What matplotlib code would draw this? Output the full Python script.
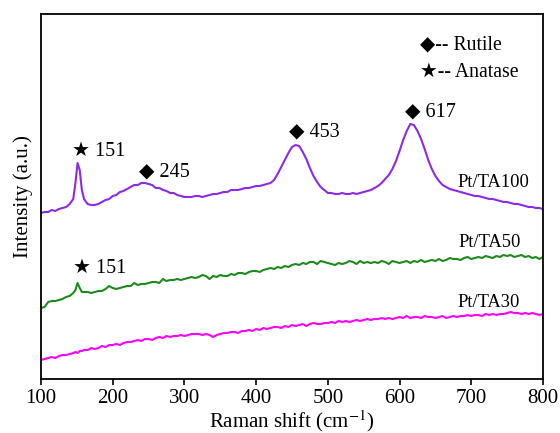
import numpy as np
import matplotlib
matplotlib.use('Agg')
import matplotlib.pyplot as plt

plt.rcParams['font.family'] = ['Liberation Serif', 'DejaVu Sans']
plt.rcParams['mathtext.fontset'] = 'stix'

# Raman shift grid (cm-1), denser around the 151 peak
shift = (list(range(100, 150, 5)) + [148, 151, 154, 157]
         + list(range(160, 805, 5)))

# intensities (a.u.)
ta100 = [166, 167, 167, 169, 168, 170, 171, 172, 175, 180,
         196, 216, 209, 189,
         180, 175, 174, 174, 175, 177, 179, 180, 183, 184,
         187, 188, 190, 192, 194, 194, 196, 196, 195, 194,
         191, 191, 189, 188, 186, 186, 184, 183, 182, 182,
         182, 183, 183, 182, 183, 184, 185, 185, 186, 187,
         187, 189, 189, 189, 190, 191, 191, 192, 193, 193,
         194, 195, 196, 199, 205, 212, 219, 226, 232, 234,
         233, 227, 220, 211, 203, 197, 192, 189, 186, 186,
         185, 185, 186, 185, 185, 186, 185, 186, 187, 188,
         189, 191, 193, 196, 200, 204, 210, 218, 228, 239,
         248, 255, 254, 248, 240, 230, 219, 210, 203, 198,
         194, 192, 190, 189, 188, 187, 186, 185, 184, 183,
         183, 182, 181, 180, 180, 179, 178, 177, 177, 176,
         175, 175, 174, 173, 172, 172, 171, 171, 170]

ta50 = [71, 72, 77, 78, 78, 79, 80, 82, 83, 86,
        89, 96, 91, 87,
        87, 87, 86, 87, 88, 88, 90, 93, 91, 90,
        91, 92, 93, 93, 96, 94, 95, 95, 96, 97,
        97, 96, 100, 98, 99, 99, 100, 99, 100, 101,
        102, 101, 102, 104, 103, 100, 103, 102, 104, 103,
        103, 105, 104, 106, 106, 105, 107, 108, 108, 107,
        109, 110, 111, 110, 112, 111, 113, 112, 114, 115,
        114, 116, 115, 117, 117, 115, 118, 117, 116, 115,
        114, 116, 115, 116, 118, 117, 115, 118, 116, 117,
        116, 117, 116, 118, 117, 115, 118, 117, 116, 117,
        118, 116, 118, 117, 119, 117, 118, 119, 118, 120,
        118, 119, 121, 120, 120, 119, 121, 122, 120, 121,
        122, 121, 123, 122, 121, 123, 122, 124, 123, 124,
        122, 123, 124, 122, 123, 121, 122, 120, 122]

ta30 = [19, 20, 21, 22, 21, 23, 24, 24, 25, 26,
        27, 26, 28, 28,
        29, 29, 31, 30, 31, 33, 32, 34, 34, 35,
        34, 36, 37, 37, 38, 39, 38, 40, 40, 39,
        41, 42, 41, 43, 42, 43, 43, 44, 43, 44,
        45, 45, 45, 44, 45, 44, 42, 44, 45, 46,
        46, 47, 47, 46, 48, 48, 49, 48, 50, 49,
        51, 50, 51, 52, 52, 51, 53, 52, 54, 53,
        54, 55, 53, 55, 56, 55, 55, 56, 56, 57,
        56, 58, 57, 58, 57, 58, 59, 58, 59, 60,
        59, 60, 60, 61, 60, 61, 60, 61, 62, 61,
        63, 61, 62, 62, 61, 63, 62, 62, 61, 62,
        63, 61, 62, 63, 62, 63, 63, 64, 63, 64,
        64, 63, 65, 64, 65, 64, 65, 65, 66, 67,
        66, 66, 65, 66, 65, 66, 65, 64, 65]

series_names = ['Pt/TA100', 'Pt/TA50', 'Pt/TA30']
colors = ['#8B2BE8', '#1E8A1E', '#FF00FF']

fig, ax = plt.subplots(figsize=(5.6, 4.33), dpi=100)
fig.subplots_adjust(left=0.0732, right=0.9696, top=0.9677, bottom=0.1247)

for ys, c in zip([ta100, ta50, ta30], colors):
    ax.plot(shift, ys, color=c, lw=1.5)

# curve labels
ax.text(681, 196, series_names[0], fontsize=13.3, ha='left', va='center')
ax.text(682, 136, series_names[1], fontsize=13.3, ha='left', va='center')
ax.text(681, 77, series_names[2], fontsize=13.3, ha='left', va='center')

# peak markers
ax.text(143, 228, '★ 151', fontsize=14.5, ha='left', va='center')
ax.text(237, 207, '◆ 245', fontsize=14.5, ha='left', va='center')
ax.text(446, 247, '◆ 453', fontsize=14.5, ha='left', va='center')
ax.text(607, 267, '◆ 617', fontsize=14.5, ha='left', va='center')
ax.text(145, 111, '★ 151', fontsize=14.5, ha='left', va='center')

# phase key
ax.text(628, 334, '◆-- Rutile', fontsize=14.2, ha='left', va='center')
ax.text(628, 307, '★-- Anatase', fontsize=14.2, ha='left', va='center')

ax.set_xlim(100, 800)
ax.set_ylim(0, 365)
ax.set_xticks(range(100, 801, 100))
ax.set_yticks([])
ax.tick_params(axis='x', direction='out', length=4, width=1.2, labelsize=15)
for sp in ax.spines.values():
    sp.set_linewidth(1.3)

ax.set_xlabel('Raman shift (cm$^{\\mathrm{-1}}$)', fontsize=15, labelpad=0)
ax.set_ylabel('Intensity (a.u.)', fontsize=15, labelpad=6)

fig.savefig('out.png', dpi=100)
